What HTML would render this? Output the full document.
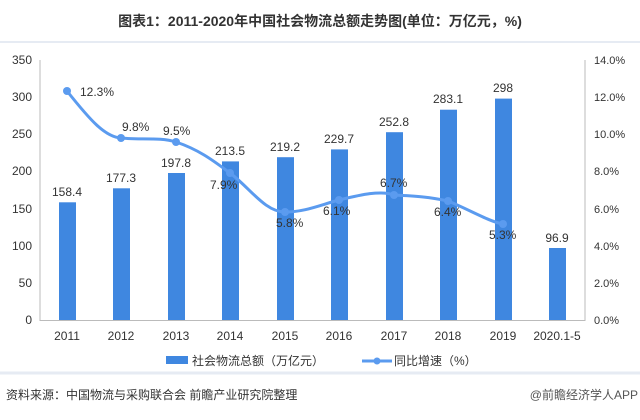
<!DOCTYPE html>
<html><head><meta charset="utf-8"><style>
body{margin:0;background:#fff;}
svg text{font-family:"Liberation Sans","Noto Sans CJK SC",sans-serif;}
</style></head><body>
<svg width="640" height="415" viewBox="0 0 640 415" xmlns="http://www.w3.org/2000/svg">
<rect width="640" height="415" fill="#fff"/>
<text x="320" y="26" text-anchor="middle" font-size="14" font-weight="bold" fill="#333">图表1：2011-2020年中国社会物流总额走势图(单位：万亿元，%)</text>
<line x1="0" y1="42" x2="640" y2="42" stroke="#e6ebf3" stroke-width="2"/>
<line x1="0" y1="373" x2="640" y2="373" stroke="#e6ebf3" stroke-width="3"/>
<g stroke="#bbb" stroke-width="1">
<line x1="40" y1="60" x2="40" y2="321"/>
<line x1="40" y1="320.5" x2="585" y2="320.5"/>
<line x1="585" y1="60" x2="585" y2="321"/>
</g>
<g font-size="12" fill="#333" text-anchor="end">
<text x="32" y="64">350</text><text x="32" y="101">300</text><text x="32" y="138">250</text><text x="32" y="175">200</text><text x="32" y="213">150</text><text x="32" y="250">100</text><text x="32" y="287">50</text><text x="32" y="324">0</text>
</g>
<g font-size="11" fill="#333">
<text x="594" y="64">14.0%</text><text x="594" y="101">12.0%</text><text x="594" y="138">10.0%</text><text x="594" y="175">8.0%</text><text x="594" y="213">6.0%</text><text x="594" y="250">4.0%</text><text x="594" y="287">2.0%</text><text x="594" y="324">0.0%</text>
</g>
<g fill="#3f87e0">
<rect x="59" y="202.3" width="17" height="117.7"/>
<rect x="113" y="188.3" width="17" height="131.7"/>
<rect x="168" y="173" width="17" height="147"/>
<rect x="222" y="161.4" width="17" height="158.6"/>
<rect x="277" y="157.2" width="17" height="162.8"/>
<rect x="331" y="149.4" width="17" height="170.6"/>
<rect x="386" y="132.2" width="17" height="187.8"/>
<rect x="440" y="109.7" width="17" height="210.3"/>
<rect x="495" y="98.6" width="17" height="221.4"/>
<rect x="549" y="248" width="17" height="72"/>
</g>
<g font-size="12" fill="#333" text-anchor="middle">
<text x="67" y="196">158.4</text><text x="121" y="182">177.3</text><text x="176" y="167">197.8</text><text x="230" y="155">213.5</text><text x="285" y="151">219.2</text><text x="339" y="143">229.7</text><text x="394" y="126">252.8</text><text x="448" y="103">283.1</text><text x="503" y="92">298</text><text x="557" y="242">96.9</text>
</g>
<path d="M67,91 C90,120 105,137 121,138 C140,140 160,137 176,142 C200,150 215,162 230,173 C250,188 265,212 285,212 C305,212 320,205 339,200 C360,195 380,190 394,195 C415,196 430,197 448,201 C470,210 490,222 503,224" fill="none" stroke="#5b9bef" stroke-width="3"/>
<g fill="#5b9bef">
<circle cx="67" cy="91" r="4"/><circle cx="121" cy="138" r="4"/><circle cx="176" cy="142" r="4"/><circle cx="230" cy="173" r="4"/><circle cx="285" cy="212" r="4"/><circle cx="339" cy="200" r="4"/><circle cx="394" cy="195" r="4"/><circle cx="448" cy="201" r="4"/><circle cx="503" cy="224" r="4"/>
</g>
<g font-size="12" fill="#333">
<text x="80" y="96">12.3%</text><text x="122" y="131">9.8%</text><text x="163" y="135">9.5%</text><text x="210" y="189">7.9%</text><text x="276" y="227">5.8%</text><text x="323" y="215">6.1%</text><text x="380" y="187">6.7%</text><text x="434" y="216">6.4%</text><text x="489" y="239">5.3%</text>
</g>
<g font-size="12" fill="#333" text-anchor="middle">
<text x="67" y="340">2011</text><text x="121" y="340">2012</text><text x="176" y="340">2013</text><text x="230" y="340">2014</text><text x="285" y="340">2015</text><text x="339" y="340">2016</text><text x="394" y="340">2017</text><text x="448" y="340">2018</text><text x="503" y="340">2019</text><text x="557" y="340">2020.1-5</text>
</g>
<rect x="166" y="356" width="22" height="8" fill="#3f87e0"/>
<text x="192" y="365" font-size="12" fill="#333">社会物流总额（万亿元）</text>
<line x1="362" y1="361" x2="392" y2="361" stroke="#5b9bef" stroke-width="3"/>
<circle cx="377" cy="361" r="3.5" fill="#5b9bef"/>
<text x="394" y="365" font-size="12" fill="#333">同比增速（%）</text>
<text x="6" y="399" font-size="12" fill="#333">资料来源：中国物流与采购联合会 前瞻产业研究院整理</text>
<text x="638" y="399" font-size="12" fill="#555" text-anchor="end">@前瞻经济学人APP</text>
</svg>
</body></html>
